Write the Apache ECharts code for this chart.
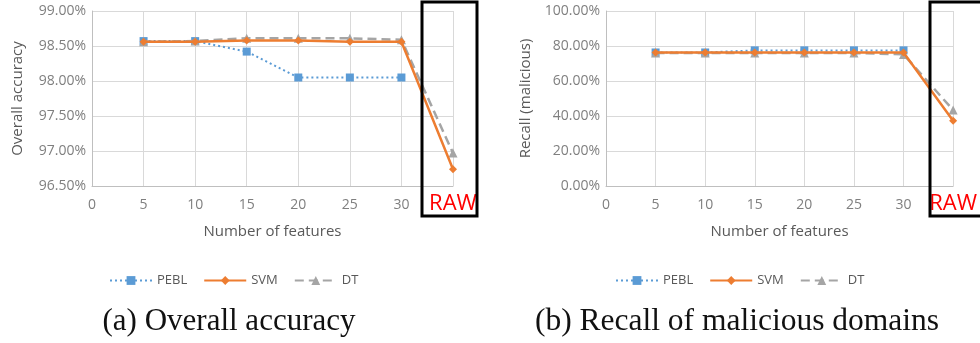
<!DOCTYPE html>
<html><head><meta charset="utf-8">
<script src="https://cdn.jsdelivr.net/npm/echarts@6/dist/echarts.min.js"></script>
<style>html,body{margin:0;padding:0;background:#fff}#c{width:980px;height:343px}</style>
</head><body><div id="c"></div>
<script>
// x positions (number of features); 35 stands for RAW
const featureCounts = [5, 10, 15, 20, 25, 30];
const rawPos = 35;
const xTicks = [0, 5, 10, 15, 20, 25, 30, 'RAW'];

// (a) Overall accuracy (%)
const accPEBL = [98.57, 98.57, 98.42, 98.05, 98.05, 98.05];
const accSVM  = [98.56, 98.56, 98.58, 98.58, 98.56, 98.56];
const accSVMRaw = 96.74;
const accDT   = [98.56, 98.57, 98.61, 98.61, 98.61, 98.59];
const accDTRaw = 96.97;

// (b) Recall of malicious domains (%)
const recPEBL = [76.3, 76.3, 77.5, 77.5, 77.5, 77.5];
const recSVM  = [76.3, 76.3, 76.3, 76.3, 76.3, 76.3];
const recSVMRaw = 37.3;
const recDT   = [76.0, 76.0, 76.0, 76.0, 76.0, 75.2];
const recDTRaw = 43.4;

const seriesNames = ['PEBL', 'SVM', 'DT'];
const captions = ['(a) Overall accuracy', '(b) Recall of malicious domains'];

function pairs(xs, ys, rawY) {
  const d = xs.map((x, i) => [x, ys[i]]);
  if (rawY !== undefined) d.push([rawPos, rawY]);
  return d;
}

const C_PEBL = '#5B9BD5', C_SVM = '#ED7D31', C_DT = '#A5A5A5';
const labelColor = '#7f7f7f';
const font = '"Open Sans", sans-serif';

function xAxis(gi) {
  return {
    type: 'value', gridIndex: gi, min: 0, max: 35, interval: 5,
    name: 'Number of features', nameLocation: 'middle', nameGap: 38,
    nameTextStyle: { color: '#595959', fontSize: 15, fontFamily: font },
    axisLine: { show: true, lineStyle: { color: '#bfbfbf' } },
    axisTick: { show: false },
    splitLine: { show: true, lineStyle: { color: '#d9d9d9' } },
    axisLabel: {
      margin: 12, color: labelColor, fontSize: 14, fontFamily: font,
      formatter: v => {
        const idx = v / 5;
        const t = xTicks[idx];
        return t === 'RAW' ? '{raw|RAW}' : String(t);
      },
      rich: { raw: { color: '#ff0000', fontSize: 22, fontFamily: font, padding: [-5, 0, 0, 0] } }
    }
  };
}
function yAxis(gi, min, max, interval, name, gap) {
  return {
    type: 'value', gridIndex: gi, min, max, interval,
    name, nameLocation: 'middle', nameGap: gap, nameRotate: 90,
    nameTextStyle: { color: '#595959', fontSize: 15, fontFamily: font },
    axisLine: { show: true, lineStyle: { color: '#bfbfbf' } },
    axisTick: { show: false },
    splitLine: { show: true, lineStyle: { color: '#d9d9d9' } },
    axisLabel: { color: labelColor, fontSize: 14, fontFamily: font, margin: 6,
      formatter: v => v.toFixed(2) + '%' }
  };
}
function mkSeries(gi, pebl, svm, svmRaw, dt, dtRaw) {
  return [
    { name: 'PEBL', type: 'line', xAxisIndex: gi, yAxisIndex: gi, data: pairs(featureCounts, pebl),
      symbol: 'rect', symbolSize: 8, itemStyle: { color: C_PEBL },
      lineStyle: { color: C_PEBL, width: 2, type: [2, 3] }, z: 2 },
    { name: 'SVM', type: 'line', xAxisIndex: gi, yAxisIndex: gi, data: pairs(featureCounts, svm, svmRaw),
      symbol: 'diamond', symbolSize: 8, itemStyle: { color: C_SVM },
      lineStyle: { color: C_SVM, width: 2.5, type: 'solid' }, z: 4 },
    { name: 'DT', type: 'line', xAxisIndex: gi, yAxisIndex: gi, data: pairs(featureCounts, dt, dtRaw),
      symbol: 'triangle', symbolSize: 9, itemStyle: { color: C_DT },
      lineStyle: { color: C_DT, width: 2.5, type: [9, 5] }, z: 3 }
  ];
}

const legendCommon = { data: seriesNames, top: 269, itemWidth: 42, itemHeight: 11, itemGap: 16,
  textStyle: { color: '#595959', fontSize: 13, fontFamily: font } };

const chart = echarts.init(document.getElementById('c'), null, { renderer: 'canvas' });
const option = {
  animation: false,
  backgroundColor: '#fff',
  grid: [
    { left: 92, right: 527, top: 11, bottom: 157 },
    { left: 606, right: 19, top: 11, bottom: 157 }
  ],
  xAxis: [xAxis(0), xAxis(1)],
  yAxis: [
    yAxis(0, 96.5, 99, 0.5, 'Overall accuracy', 67),
    yAxis(1, 0, 100, 20, 'Recall (malicious)', 73)
  ],
  legend: [
    Object.assign({ left: 104 }, legendCommon),
    Object.assign({ left: 610 }, legendCommon)
  ],
  series: [
    ...mkSeries(0, accPEBL, accSVM, accSVMRaw, accDT, accDTRaw),
    ...mkSeries(1, recPEBL, recSVM, recSVMRaw, recDT, recDTRaw)
  ],
  graphic: [
    { type: 'rect', shape: { x: 422, y: 2, width: 55, height: 214 },
      style: { fill: null, stroke: '#000', lineWidth: 3 }, z: 10 },
    { type: 'rect', shape: { x: 930, y: 2, width: 60, height: 214 },
      style: { fill: null, stroke: '#000', lineWidth: 3 }, z: 10 },
    { type: 'text', x: 229, y: 322, style: { text: captions[0], fill: '#111',
      font: '31px "Liberation Serif", serif', textAlign: 'center', textVerticalAlign: 'middle' } },
    { type: 'text', x: 737, y: 322, style: { text: captions[1], fill: '#111',
      font: '31.5px "Liberation Serif", serif', textAlign: 'center', textVerticalAlign: 'middle' } }
  ]
};
chart.setOption(option);
</script>
</body></html>
